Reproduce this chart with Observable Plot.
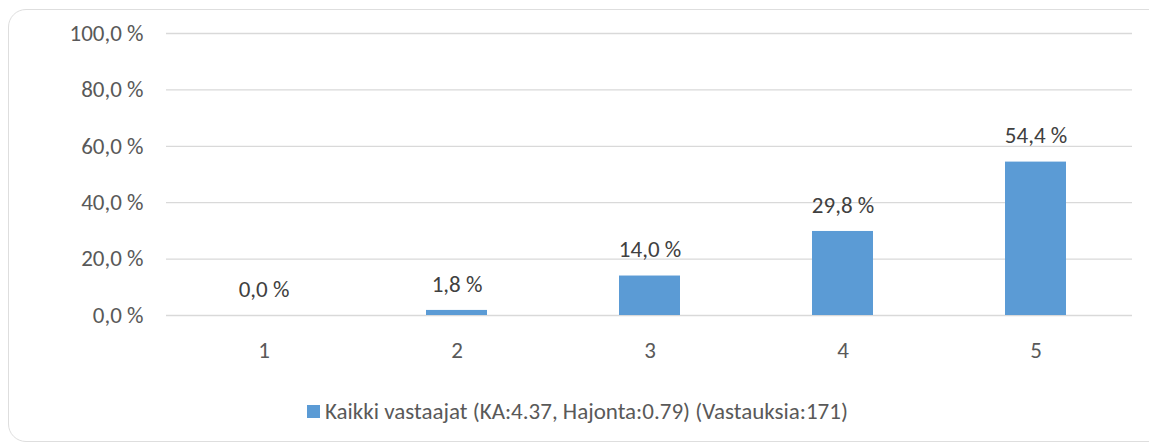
<!DOCTYPE html>
<html>
<head>
<meta charset="utf-8">
<script src="https://cdn.jsdelivr.net/npm/d3@7"></script>
<script src="https://cdn.jsdelivr.net/npm/@observablehq/plot@0.6"></script>
<style>
  html, body { margin: 0; padding: 0; background: #fff; }
  #wrap { position: relative; width: 1149px; height: 444px; overflow: hidden; font-family: Carlito, Calibri, Lato, sans-serif; }
  #frame { position: absolute; left: 8px; top: 9px; width: 1160px; height: 433px; border: 1.5px solid #dedede; border-radius: 18px; box-sizing: border-box; }
  #chart { position: absolute; left: 0; top: 0; }
  #legend { position: absolute; left: 307px; top: 397px; font-size: 23px; color: #595959; display: flex; align-items: center; white-space: nowrap; }
  #legend .sw { width: 13px; height: 13px; background: #5b9bd5; margin-right: 5px; }
</style>
</head>
<body>
<div id="wrap">
  <div id="frame"></div>
  <div id="chart"></div>
  <div id="legend"></div>
</div>
<script>
const categories = ["1", "2", "3", "4", "5"];
const values = [0.0, 1.8, 14.0, 29.8, 54.4];
const yTicks = [0, 20, 40, 60, 80, 100];
const seriesName = "Kaikki vastaajat (KA:4.37, Hajonta:0.79) (Vastauksia:171)";
const barColor = "#5b9bd5";

const fmt = v => v.toFixed(1).replace(".", ",") + " %";
const data = categories.map((c, i) => ({cat: c, value: values[i]}));

const chart = Plot.plot({
  width: 1149,
  height: 380,
  marginLeft: 166,
  marginRight: 17,
  marginTop: 33,
  marginBottom: 65,
  style: {fontFamily: "Carlito, Calibri, Lato, sans-serif", fontSize: "23px", color: "#595959", background: "transparent", overflow: "visible"},
  x: {domain: categories, paddingInner: 0.685, paddingOuter: 0.3425, label: null},
  y: {domain: [0, 100], label: null},
  marks: [
    Plot.gridY(yTicks, {stroke: "#d9d9d9", strokeOpacity: 1, strokeWidth: 1.3}),
    Plot.barY(data, {x: "cat", y: "value", fill: barColor}),
    Plot.text(data, {x: "cat", y: "value", text: d => fmt(d.value), dy: -26, fill: "#404040", fontSize: 23}),
    Plot.axisY(yTicks, {tickSize: 0, tickPadding: 23, tickFormat: fmt, fill: "#595959", fontSize: 23}),
    Plot.axisX({tickSize: 0, tickPadding: 26, fill: "#595959", fontSize: 23})
  ]
});
document.getElementById("chart").appendChild(chart);

const lg = document.getElementById("legend");
const sw = document.createElement("span"); sw.className = "sw";
const tx = document.createElement("span"); tx.textContent = seriesName;
lg.appendChild(sw); lg.appendChild(tx);
</script>
</body>
</html>
